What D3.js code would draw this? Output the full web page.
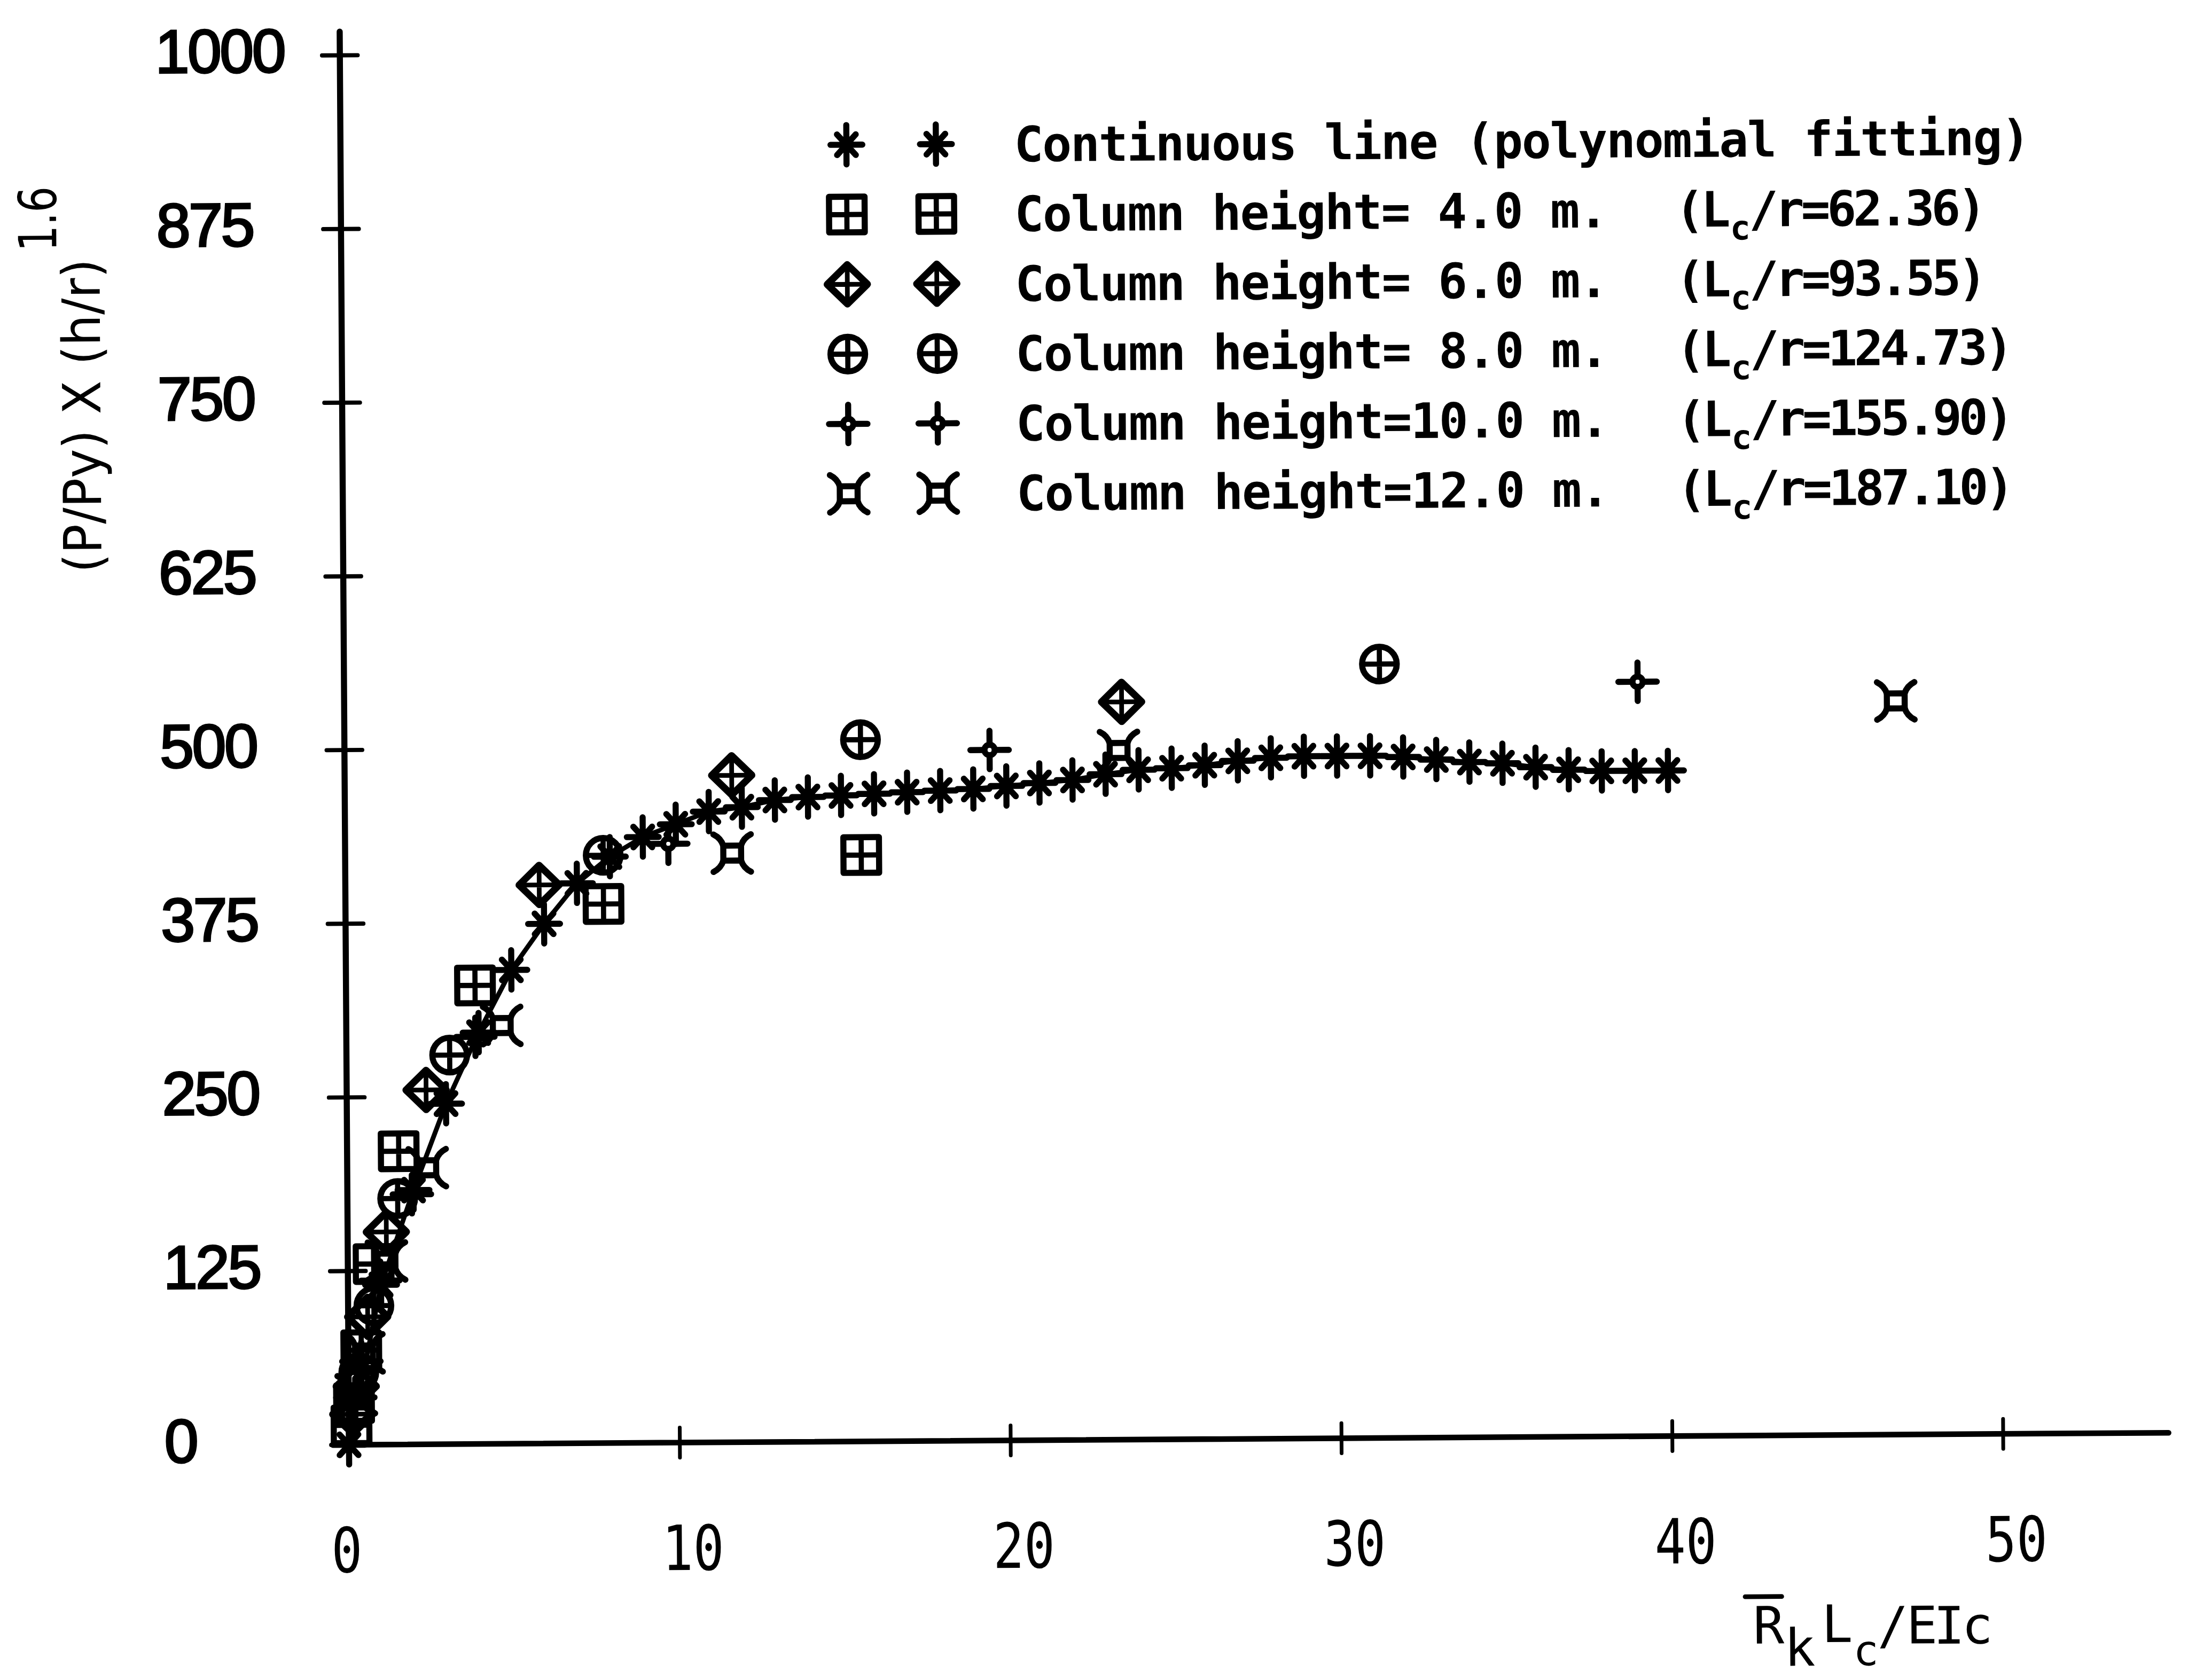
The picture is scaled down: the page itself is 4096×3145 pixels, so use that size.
<!DOCTYPE html>
<html>
<head>
<meta charset="utf-8">
<script src="https://cdn.jsdelivr.net/npm/d3@7"></script>
<style>
  html, body { margin: 0; padding: 0; background: #fff; }
  svg { display: block; }
</style>
</head>
<body>
<script>
// ---- Polynomial fitting curve (asterisks joined by a line) ----
const fitX = [0, 1, 2, 3, 4, 5, 6, 7, 8, 9, 10, 11, 12, 13, 14, 15, 16, 17, 18, 19, 20,
              21, 22, 23, 24, 25, 26, 27, 28, 29, 30, 31, 32, 33, 34, 35, 36, 37, 38, 39, 40];
const fitY = [0, 115, 183, 245, 296, 341, 374, 403, 422, 436, 445, 454, 457, 462, 464, 465, 466, 467, 468, 469, 471,
              473, 475, 479, 482, 483, 485, 488, 490, 491, 491, 491, 490, 488, 486, 485, 482, 480, 479, 479, 479];

// ---- Measured points, one series per column height ----
const h4X  = [15.6, 7.8, 3.9, 1.56, 0.78, 0.39, 0.16, 0.08];
const h4Y  = [422, 388, 330, 211, 130, 68, 30, 14];
const h6X  = [23.5, 11.7, 5.86, 2.4, 1.17, 0.59, 0.23, 0.12];
const h6Y  = [531, 480, 402, 255, 153, 92, 42, 22];
const h8X  = [31.3, 15.6, 7.8, 3.12, 1.52, 0.78, 0.31, 0.16];
const h8Y  = [557, 505, 423, 280, 177, 100, 52, 28];
const h10X = [39.1, 19.5, 9.77, 3.9, 1.95, 0.98, 0.39, 0.2];
const h10Y = [543, 497, 431, 293, 180, 118, 60, 34];
const h12X = [46.9, 23.4, 11.7, 4.7, 2.42, 1.17, 0.47, 0.23];
const h12Y = [528, 496, 424, 301, 199, 132, 66, 36];

// ---- Axes ----
const xTicks = [0, 10, 20, 30, 40, 50];
const yTicks = [0, 125, 250, 375, 500, 625, 750, 875, 1000];

// ---- Legend ----
const legendSymbols = ["asterisk", "square", "diamond", "circle", "plus", "bowtie"];
const legendLabels = [
  "Continuous line (polynomial fitting)",
  "Column height= 4.0 m.",
  "Column height= 6.0 m.",
  "Column height= 8.0 m.",
  "Column height=10.0 m.",
  "Column height=12.0 m."
];
const legendRatios = [null, "62.36", "93.55", "124.73", "155.90", "187.10"];

const seriesList = [
  { xs: h4X,  ys: h4Y,  sym: "square"  },
  { xs: h6X,  ys: h6Y,  sym: "diamond" },
  { xs: h8X,  ys: h8Y,  sym: "circle"  },
  { xs: h10X, ys: h10Y, sym: "plus"    },
  { xs: h12X, ys: h12Y, sym: "bowtie"  }
];

// ---- Canvas ----
const W = 4096, H = 3145;
const K = 0.877;                 // layout units -> pixels
const svg = d3.select("body").append("svg")
  .attr("width", W).attr("height", H)
  .attr("viewBox", `0 0 ${W} ${H}`);
svg.append("rect").attr("width", W).attr("height", H).attr("fill", "#fff");

// the whole plotter sheet sits slightly rotated about the plot origin
const root = svg.append("g")
  .attr("transform", `scale(${K}) rotate(-0.378 745 3084)`);

const x = d3.scaleLinear().domain([0, 55]).range([745, 745 + 55 * 70.62]);
const y = d3.scaleLinear().domain([0, 1000]).range([3084, 118]);

// ---- Axis lines and ticks ----
const axes = root.append("g")
  .attr("stroke", "#000").attr("fill", "none").attr("stroke-linecap", "round");
axes.append("line")
  .attr("x1", x(0)).attr("x2", x(0))
  .attr("y1", y(0)).attr("y2", y(1017))
  .attr("stroke-width", 13);
axes.append("line")
  .attr("x1", x(0)).attr("x2", x(55))
  .attr("y1", y(0)).attr("y2", y(0))
  .attr("stroke-width", 12);
axes.selectAll(".ytick").data(yTicks).join("line")
  .attr("class", "ytick")
  .attr("x1", x(0) - 38).attr("x2", x(0) + 38)
  .attr("y1", d => y(d)).attr("y2", d => y(d))
  .attr("stroke-width", 9);
axes.selectAll(".xtick").data(xTicks).join("line")
  .attr("class", "xtick")
  .attr("x1", d => x(d)).attr("x2", d => x(d))
  .attr("y1", y(0) - 32).attr("y2", y(0) + 32)
  .attr("stroke-width", 8);

// ---- Tick labels ----
root.append("g").selectAll("text").data(yTicks).join("text")
  .attr("x", 351)
  .attr("y", d => y(d) + 35)
  .attr("font-family", "'Liberation Sans', Arial, sans-serif")
  .attr("font-size", 131)
  .attr("letter-spacing", -4)
  .attr("fill", "#000")
  .attr("stroke", "#000").attr("stroke-width", 4)
  .text(d => d);

root.append("g").selectAll("text").data(xTicks).join("text")
  .attr("x", d => x(d) - 39)
  .attr("y", 3356)
  .attr("font-family", "'DejaVu Sans Mono', monospace")
  .attr("font-size", 133)
  .attr("textLength", d => String(d).length * 66)
  .attr("lengthAdjust", "spacingAndGlyphs")
  .attr("fill", "#000")
  .text(d => d);

// ---- Axis titles ----
const yTitle = root.append("g")
  .attr("font-family", "'DejaVu Sans', sans-serif")
  .attr("fill", "#000");
yTitle.append("text")
  .attr("transform", "translate(229,884) rotate(-90)")
  .attr("text-anchor", "middle")
  .attr("font-size", 112)
  .attr("textLength", 670)
  .attr("lengthAdjust", "spacingAndGlyphs")
  .text("(P/Py) X (h/r)");
yTitle.append("text")
  .attr("transform", "translate(137,463) rotate(-90)")
  .attr("text-anchor", "middle")
  .attr("font-size", 112)
  .attr("textLength", 139)
  .attr("lengthAdjust", "spacingAndGlyphs")
  .text("1.6");

const xTitle = root.append("g")
  .attr("font-family", "'DejaVu Sans Mono', monospace")
  .attr("font-size", 110)
  .attr("text-anchor", "middle")
  .attr("fill", "#000");
const xTitleGlyphs = [
  { t: "R", cx: 3773, by: 3528, fs: 110 },
  { t: "k", cx: 3839, by: 3576, fs: 110 },
  { t: "L", cx: 3919, by: 3526, fs: 110 },
  { t: "c", cx: 3980, by: 3576, fs: 90 },
  { t: "/", cx: 4038, by: 3530, fs: 110 },
  { t: "E", cx: 4100, by: 3530, fs: 110 },
  { t: "I", cx: 4158, by: 3531, fs: 110 },
  { t: "c", cx: 4218, by: 3531, fs: 110 }
];
xTitle.selectAll("text").data(xTitleGlyphs).join("text")
  .attr("x", d => d.cx).attr("y", d => d.by)
  .attr("font-size", d => d.fs)
  .text(d => d.t);
root.append("line")
  .attr("x1", 3723).attr("x2", 3801).attr("y1", 3428).attr("y2", 3428)
  .attr("stroke", "#000").attr("stroke-width", 10).attr("stroke-linecap", "round");

// ---- Marker glyphs ----
function drawMarker(g, type) {
  g.attr("fill", "none").attr("stroke", "#000").attr("stroke-width", 13)
   .attr("stroke-linecap", "round").attr("stroke-linejoin", "round");
  if (type === "asterisk") {
    g.append("path").attr("d", "M0,-42V42M-34,0H34M-20,-22L20,22M20,-22L-20,22");
    g.append("circle").attr("r", 15).attr("fill", "#000").attr("stroke", "none");
  } else if (type === "square") {
    g.append("rect").attr("x", -38).attr("y", -38).attr("width", 76).attr("height", 76);
    g.append("path").attr("d", "M0,-38V38M-38,0H38").attr("stroke-width", 11);
  } else if (type === "diamond") {
    g.append("path").attr("d", "M0,-42L43,0L0,42L-43,0Z").attr("stroke-width", 15);
    g.append("path").attr("d", "M0,-38V38M-38,0H38").attr("stroke-width", 10);
  } else if (type === "circle") {
    g.append("circle").attr("r", 37);
    g.append("path").attr("d", "M0,-37V37M-37,0H37").attr("stroke-width", 11);
  } else if (type === "plus") {
    g.append("path").attr("d", "M0,-41V-11M0,11V41M-41,0H-11M11,0H41");
    g.append("circle").attr("r", 11);
  } else if (type === "bowtie") {
    g.append("rect").attr("x", -19).attr("y", -16).attr("width", 38).attr("height", 32);
    g.append("path").attr("d",
      "M-19,-16Q-24,-32 -40,-40M19,-16Q24,-32 40,-40M-19,16Q-24,32 -40,40M19,16Q24,32 40,40");
  }
}

// ---- Fitted curve ----
const fitPts = fitX.map((v, i) => [v, fitY[i]]);
root.append("path")
  .datum(fitPts)
  .attr("fill", "none").attr("stroke", "#000").attr("stroke-width", 10)
  .attr("stroke-linejoin", "round")
  .attr("d", d3.line().x(d => x(d[0])).y(d => y(d[1])));

root.append("g").selectAll("g").data(fitPts).join("g")
  .attr("transform", d => `translate(${x(d[0])},${y(d[1])})`)
  .each(function () { drawMarker(d3.select(this), "asterisk"); });

// ---- Measured series ----
seriesList.forEach(s => {
  const pts = s.xs.map((v, i) => [v, s.ys[i]]);
  root.append("g").selectAll("g").data(pts).join("g")
    .attr("transform", d => `translate(${x(d[0])},${y(d[1])})`)
    .each(function () { drawMarker(d3.select(this), s.sym); });
});

// ---- Legend ----
const legend = root.append("g");
legendSymbols.forEach((sym, i) => {
  const cy = 316 + 149 * i;
  [1825, 2016].forEach(cx => {
    drawMarker(legend.append("g").attr("transform", `translate(${cx},${cy})`), sym);
  });
  legend.append("text")
    .attr("x", 2183).attr("y", cy + 38)
    .attr("font-family", "'DejaVu Sans Mono', monospace")
    .attr("font-weight", "bold")
    .attr("font-size", 104)
    .attr("letter-spacing", -2.4)
    .attr("fill", "#000")
    .text(legendLabels[i]);
  if (legendRatios[i]) {
    const r = legend.append("text")
      .attr("x", 3593).attr("y", cy + 38)
      .attr("font-family", "'DejaVu Sans Mono', monospace")
      .attr("font-weight", "bold")
      .attr("font-size", 104)
      .attr("letter-spacing", -7)
      .attr("fill", "#000");
    r.append("tspan").text("(L");
    r.append("tspan").attr("font-size", 72).attr("dx", 6).attr("dy", 28).text("c");
    r.append("tspan").attr("dx", 4).attr("dy", -28).text("/r=" + legendRatios[i] + ")");
  }
});
</script>
</body>
</html>
